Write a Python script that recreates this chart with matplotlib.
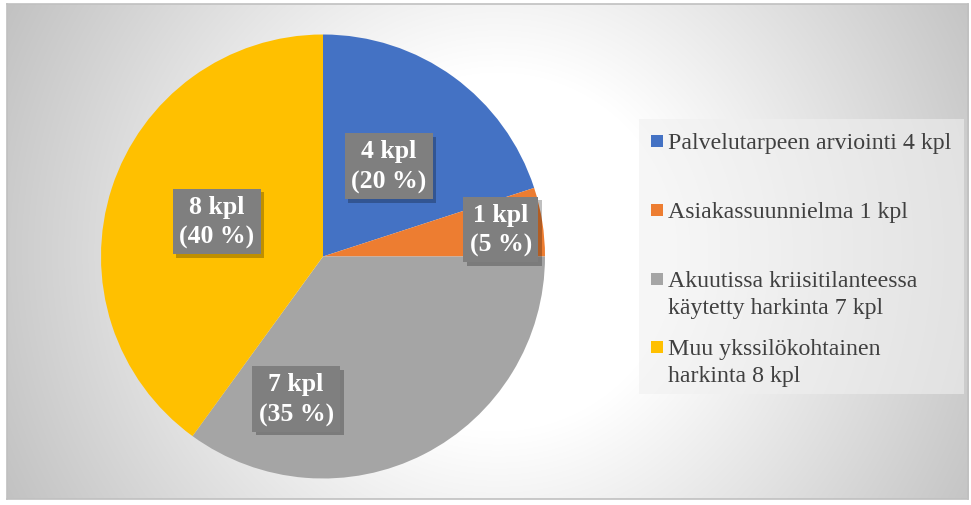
import numpy as np
import matplotlib
matplotlib.use('Agg')
import matplotlib.pyplot as plt
from matplotlib.patches import Rectangle
import matplotlib.patheffects as pe

plt.rcParams['font.family'] = ['Liberation Serif', 'DejaVu Serif']

# data
counts = [4, 1, 7, 8]
shares = [20, 5, 35, 40]
legend_labels = [
    'Palvelutarpeen arviointi 4 kpl',
    'Asiakassuunnielma 1 kpl',
    'Akuutissa kriisitilanteessa\nkäytetty harkinta 7 kpl',
    'Muu ykssilökohtainen\nharkinta 8 kpl',
]
colors = ['#4472C4', '#ED7D31', '#A5A5A5', '#FFC000']

# label placement (angle in degrees, fraction of radius)
label_angle = [54, 8.7, -100.7, 161.7]
label_radius = [0.504, 0.81, 0.653, 0.503]

W, H = 971, 506
fig = plt.figure(figsize=(W / 100, H / 100), dpi=100)
fig.patch.set_facecolor('white')

# background with radial gradient
bg = fig.add_axes([7 / W, 1 - 500 / H, 961 / W, 495 / H])
yy, xx = np.mgrid[0:495, 0:961]
dist = np.hypot(xx - 490, yy - 248)
t = np.clip((dist - 180) / 380, 0, 1)
g = 1 - t * (63 / 255)
bg.imshow(np.dstack([g, g, g]), aspect='auto', interpolation='bilinear')
bg.set_xticks([])
bg.set_yticks([])
for s in bg.spines.values():
    s.set_color('#c0c0c0')
    s.set_linewidth(1.2)

# pie
cx, cy, R = 323, 257.5, 222
ax = fig.add_axes([(cx - R) / W, (H - cy - R) / H, 2 * R / W, 2 * R / H])
ax.pie(counts, colors=colors, startangle=90, counterclock=False, radius=1,
       wedgeprops=dict(linewidth=0))
ax.set_xlim(-1, 1)
ax.set_ylim(-1, 1)
ax.set_aspect('equal')
ax.axis('off')

for c, p, a, r in zip(counts, shares, label_angle, label_radius):
    x = r * np.cos(np.radians(a))
    y = r * np.sin(np.radians(a))
    txt = ax.text(x, y, f'{c} kpl\n({p} %)', ha='center', va='center',
                  color='white', fontsize=18.5, fontweight='bold', linespacing=1.38,
                  bbox=dict(boxstyle='square,pad=0.25', facecolor='#7f7f7f', edgecolor='none'))
    txt.get_bbox_patch().set_path_effects([
        pe.SimplePatchShadow(offset=(2.5, -2.5), shadow_rgbFace='black', alpha=0.25),
        pe.Normal()])

# legend (drawn by hand to keep Excel's uneven spacing)
fig.patches.append(Rectangle((639 / W, 1 - 395 / H), 325 / W, 275 / H,
                             transform=fig.transFigure, facecolor='#f0f0f0',
                             alpha=0.6, edgecolor='none', zorder=2))
baselines = [149, 218, 287, 355]
line_step = 27
for lab, col, yb in zip(legend_labels, colors, baselines):
    fig.patches.append(Rectangle((651 / W, 1 - (yb - 1) / H), 12 / W, 12 / H,
                                 transform=fig.transFigure, facecolor=col,
                                 edgecolor='none', zorder=3))
    for i, line in enumerate(lab.split('\n')):
        fig.text(668 / W, 1 - (yb + i * line_step) / H, line, ha='left',
                 va='baseline', fontsize=17.2, color='#404040', zorder=4)

fig.savefig('out.png', dpi=100)
